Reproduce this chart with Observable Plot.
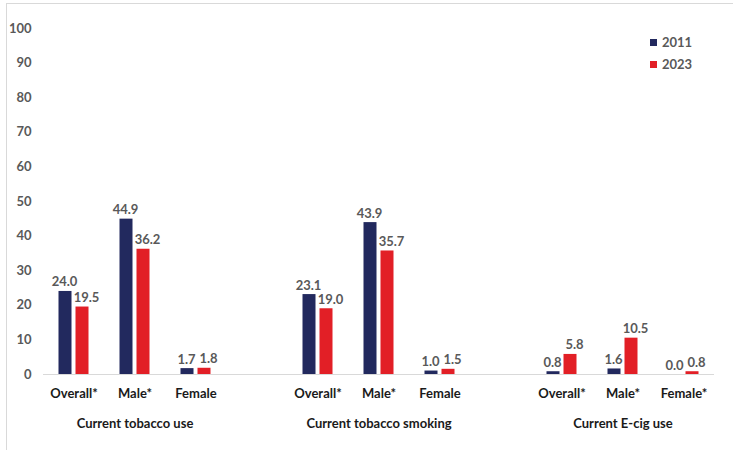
<!DOCTYPE html>
<html>
<head>
<meta charset="utf-8">
<script src="https://cdn.jsdelivr.net/npm/d3@7"></script>
<script src="https://cdn.jsdelivr.net/npm/@observablehq/plot@0.6"></script>
<style>
  html, body { margin: 0; padding: 0; background: #fff; }
  #wrap { position: relative; width: 733px; height: 450px; overflow: hidden; font-family: Lato, "Open Sans", sans-serif; }
  #frame { position: absolute; left: 6px; top: 3px; width: 740px; height: 460px; border-top: 1px solid #d9d9d9; border-left: 1px solid #d9d9d9; pointer-events: none; }
  #legend { position: absolute; left: 650px; top: 33px; font: bold 13px Lato, sans-serif; color: #595959; }
  #legend .item { display: flex; align-items: center; height: 18px; margin-bottom: 4px; }
  #legend .sw { width: 7px; height: 7px; margin-right: 5px; }
  svg { display: block; }
</style>
</head>
<body>
<div id="wrap">
  <div id="chart"></div>
  <div id="frame"></div>
  <div id="legend"></div>
</div>
<script>
const years = ["2011", "2023"];
const colors = ["#22295e", "#e21f26"];
const groups = ["Current tobacco use", "Current tobacco smoking", "Current E-cig use"];
const subgroups = [
  ["Overall*", "Male*", "Female"],
  ["Overall*", "Male*", "Female"],
  ["Overall*", "Male*", "Female*"]
];
const values2011 = [24.0, 44.9, 1.7, 23.1, 43.9, 1.0, 0.8, 1.6, 0.0];
const values2023 = [19.5, 36.2, 1.8, 19.0, 35.7, 1.5, 5.8, 10.5, 0.8];
const yTicks = [0, 10, 20, 30, 40, 50, 60, 70, 80, 90, 100];

// Build slot domain (with spacer slots between groups)
const slotDomain = [];
const slotRows = [];
const groupRows = [];
const rows = [];
let k = 0;
groups.forEach((g, gi) => {
  if (gi > 0) slotDomain.push("spacer" + gi);
  subgroups[gi].forEach((s, si) => {
    const slot = gi + "|" + s;
    slotDomain.push(slot);
    slotRows.push({slot, sub: s});
    if (si === 1) groupRows.push({slot, group: g});
    rows.push({slot, year: years[0], value: values2011[k]});
    rows.push({slot, year: years[1], value: values2023[k]});
    k++;
  });
});
const baseRows = slotDomain.map(slot => ({slot}));

const font = "Lato, 'Open Sans', sans-serif";

const chart = Plot.plot({
  width: 733,
  height: 450,
  marginLeft: 42.5,
  marginRight: 19.5,
  marginTop: 28,
  marginBottom: 76,
  style: {fontFamily: font, background: "transparent"},
  fx: {domain: slotDomain, padding: 0, axis: null, label: null},
  x: {domain: years, paddingInner: 0.222, paddingOuter: 0.806, axis: null},
  y: {domain: [0, 100], axis: null},
  color: {domain: years, range: colors},
  marks: [
    Plot.ruleY(baseRows, {fx: "slot", y: 0, stroke: "#d9d9d9", strokeWidth: 1}),
    Plot.axisY({ticks: yTicks, tickSize: 0, tickPadding: 12, label: null, fontSize: 13, fontWeight: "bold", fill: "#595959"}),
    Plot.barY(rows, {fx: "slot", x: "year", y: "value", fill: "year"}),
    Plot.text(rows.filter(d => d.year === years[0]), {fx: "slot", x: "year", y: "value", text: d => d.value.toFixed(1), lineAnchor: "bottom", dy: -5, dx: -1, fontSize: 13, fontWeight: "bold", fill: "#595959"}),
    Plot.text(rows.filter(d => d.year === years[1]), {fx: "slot", x: "year", y: "value", text: d => d.value.toFixed(1), lineAnchor: "bottom", dy: -5, dx: 4, fontSize: 13, fontWeight: "bold", fill: "#595959"}),
    Plot.text(slotRows, {fx: "slot", text: "sub", frameAnchor: "bottom", lineAnchor: "middle", dy: 19, fontSize: 13, fontWeight: "bold", fill: "#1a1a1a"}),
    Plot.text(groupRows, {fx: "slot", text: "group", frameAnchor: "bottom", lineAnchor: "middle", dy: 49, fontSize: 13, fontWeight: "bold", fill: "#1a1a1a"})
  ]
});
document.getElementById("chart").appendChild(chart);

const legend = document.getElementById("legend");
years.forEach((y, i) => {
  const item = document.createElement("div");
  item.className = "item";
  const sw = document.createElement("span");
  sw.className = "sw";
  sw.style.background = colors[i];
  const t = document.createElement("span");
  t.textContent = y;
  item.appendChild(sw);
  item.appendChild(t);
  legend.appendChild(item);
});
</script>
</body>
</html>
